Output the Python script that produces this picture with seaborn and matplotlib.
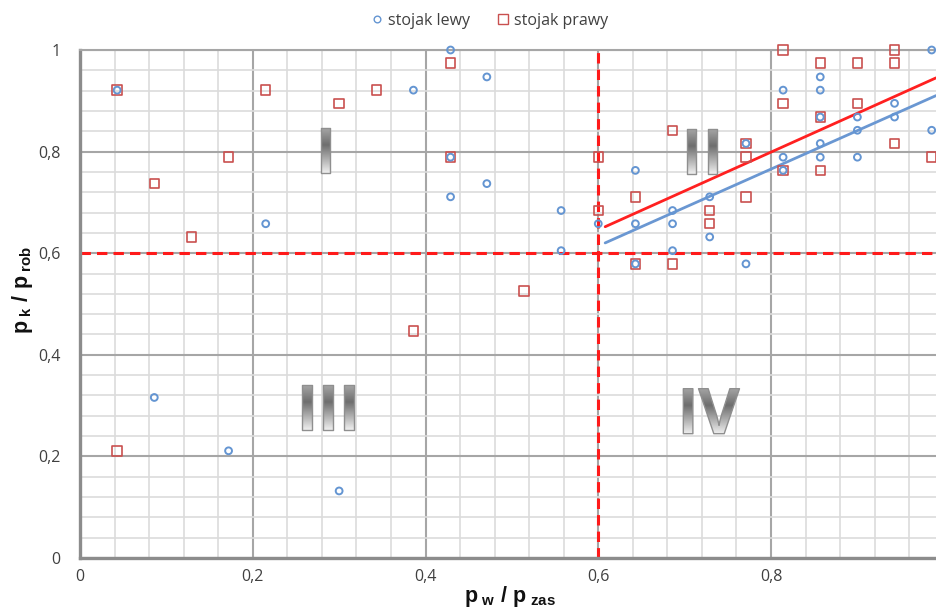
import numpy as np
import pandas as pd
import matplotlib
matplotlib.use('Agg')
import matplotlib.pyplot as plt
import seaborn as sns
from matplotlib.textpath import TextPath
from matplotlib.font_manager import FontProperties
from matplotlib.patches import PathPatch
from matplotlib.transforms import Affine2D, ScaledTranslation
from matplotlib.ticker import MultipleLocator, FixedLocator, FuncFormatter
from matplotlib.lines import Line2D
from matplotlib.colors import LinearSegmentedColormap

# ---------------- data ----------------
lewy_x = [0.043, 0.215, 0.086, 0.172, 0.300, 0.386, 0.429, 0.471, 0.429, 0.471,
          0.429, 0.557, 0.557, 0.600, 0.643, 0.643, 0.643, 0.686, 0.686, 0.686,
          0.729, 0.729, 0.771, 0.771, 0.814, 0.814, 0.814, 0.857, 0.857, 0.857,
          0.857, 0.857, 0.900, 0.900, 0.900, 0.943, 0.943, 0.986, 0.986]
lewy_y = [0.921, 0.658, 0.316, 0.211, 0.132, 0.921, 1.000, 0.947, 0.789, 0.737,
          0.711, 0.684, 0.605, 0.658, 0.763, 0.658, 0.579, 0.684, 0.658, 0.605,
          0.711, 0.632, 0.816, 0.579, 0.921, 0.789, 0.763, 0.947, 0.921, 0.868,
          0.816, 0.789, 0.868, 0.842, 0.789, 0.895, 0.868, 1.000, 0.842]

prawy_x = [0.043, 0.086, 0.129, 0.172, 0.215, 0.300, 0.343, 0.043, 0.386, 0.429,
           0.429, 0.514, 0.600, 0.600, 0.643, 0.643, 0.686, 0.686, 0.729, 0.729,
           0.771, 0.771, 0.771, 0.814, 0.814, 0.814, 0.857, 0.857, 0.857, 0.900,
           0.900, 0.943, 0.943, 0.943, 0.986]
prawy_y = [0.921, 0.737, 0.632, 0.789, 0.921, 0.895, 0.921, 0.211, 0.447, 0.974,
           0.789, 0.526, 0.789, 0.684, 0.711, 0.579, 0.842, 0.579, 0.684, 0.658,
           0.816, 0.789, 0.711, 1.000, 0.895, 0.763, 0.974, 0.868, 0.763, 0.974,
           0.895, 1.000, 0.974, 0.816, 0.789]

series_names = ['stojak lewy', 'stojak prawy']
trend_slope = [0.757, 0.765]
trend_intercept = [0.160, 0.187]
trend_x = [0.608, 0.991]

zone_labels = ['I', 'II', 'III', 'IV']
zone_x = [0.284, 0.720, 0.287, 0.731]
zone_y = [0.803, 0.800, 0.297, 0.289]
threshold = 0.6

x_ticks = [0, 0.2, 0.4, 0.6, 0.8]
y_ticks = [0, 0.2, 0.4, 0.6, 0.8, 1.0]

# ---------------- style ----------------
sns.set_theme(style='white')
plt.rcParams['font.family'] = ['Open Sans', 'DejaVu Sans']
plt.rcParams['mathtext.fontset'] = 'custom'
plt.rcParams['mathtext.rm'] = 'Liberation Sans:bold'
plt.rcParams['mathtext.it'] = 'Liberation Sans:bold'
plt.rcParams['mathtext.bf'] = 'Liberation Sans:bold'

BLUE = '#6495d2'
RED = '#c9504f'
TXT = '#404040'

W, H = 936, 610
fig = plt.figure(figsize=(W / 100, H / 100), dpi=100)
ax = fig.add_axes([80 / W, (H - 558) / H, 856 / W, 508 / H])
ax.set_xlim(0, 0.991)
ax.set_ylim(0, 1)

# grid
ax.xaxis.set_major_locator(FixedLocator(x_ticks))
ax.yaxis.set_major_locator(FixedLocator(y_ticks))
ax.xaxis.set_minor_locator(MultipleLocator(0.04))
ax.yaxis.set_minor_locator(MultipleLocator(0.04))
ax.grid(which='major', color='#a6a6a6', lw=1.5, zorder=0)
ax.grid(which='minor', color='#dcdcdc', lw=1.2, zorder=0)
ax.set_axisbelow(True)

fmt = FuncFormatter(lambda v, p: '0' if abs(v) < 1e-9 else ('1' if abs(v - 1) < 1e-9 else f'{v:.1f}'.replace('.', ',')))
ax.xaxis.set_major_formatter(fmt)
ax.yaxis.set_major_formatter(fmt)
ax.tick_params(which='both', length=0, labelsize=11.5, labelcolor=TXT)
ax.tick_params(axis='y', pad=14)
ax.tick_params(axis='x', pad=8)

for s in ['left', 'bottom']:
    ax.spines[s].set_color('#8c8c8c')
    ax.spines[s].set_linewidth(2.4)
ax.spines['top'].set_color('#a6a6a6')
ax.spines['top'].set_linewidth(1.5)
ax.spines['right'].set_visible(False)

# threshold dashed lines
ax.axvline(threshold, color='#ff1a1a', lw=2.2, ls=(0, (3.4, 2.0)), zorder=2)
ax.axhline(threshold, color='#ff1a1a', lw=2.2, ls=(0, (3.4, 2.0)), zorder=2)

# trend lines
tx = np.array(trend_x)
trend_df = pd.DataFrame({
    'x': np.concatenate([tx, tx]),
    'y': np.concatenate([trend_intercept[0] + trend_slope[0] * tx,
                         trend_intercept[1] + trend_slope[1] * tx]),
    's': [series_names[0]] * 2 + [series_names[1]] * 2,
})
sns.lineplot(data=trend_df, x='x', y='y', hue='s', palette=['#6a97d2', '#ff2020'],
             lw=2.0, legend=False, ax=ax, zorder=3, sort=False)

# scatter points
sns.scatterplot(x=prawy_x, y=prawy_y, marker='s', s=46, facecolor='none',
                edgecolor=RED, linewidth=1.2, ax=ax, zorder=5, clip_on=False, legend=False)
sns.scatterplot(x=lewy_x, y=lewy_y, marker='o', s=24, facecolor='none',
                edgecolor=BLUE, linewidth=1.4, ax=ax, zorder=6, clip_on=False, legend=False)

# gradient roman numerals
cmap = LinearSegmentedColormap.from_list('g', [(0, '#a9a9a9'), (0.38, '#6e6e6e'), (1.0, '#f4f4f4')])
fp = FontProperties(family='Open Sans', weight='bold')


def gradient_label(s, xc, yc, cap_px=45):
    tp = TextPath((0, 0), s, size=100, prop=fp)
    bb = tp.get_extents()
    k = cap_px / bb.height
    tr = Affine2D().translate(-(bb.x0 + bb.x1) / 2, -(bb.y0 + bb.y1) / 2).scale(k) \
        + ScaledTranslation(xc, yc, ax.transData)
    patch = PathPatch(tp, transform=tr, facecolor='none', edgecolor='#8f8f8f', lw=1.0,
                      joinstyle='round', zorder=4)
    ax.add_patch(patch)
    cx, cy = ax.transData.transform((xc, yc))
    inv = ax.transData.inverted()
    w = bb.width * k / 2 + 2
    h = cap_px / 2 + 1
    x0, y0 = inv.transform((cx - w, cy - h))
    x1, y1 = inv.transform((cx + w, cy + h))
    grad = np.linspace(0, 1, 256).reshape(-1, 1)
    im = ax.imshow(grad, extent=(x0, x1, y0, y1), origin='upper', aspect='auto',
                   cmap=cmap, zorder=3.5, interpolation='bilinear')
    im.set_clip_path(patch)


for s, xx, yy in zip(zone_labels, zone_x, zone_y):
    gradient_label(s, xx, yy)

ax.set_xlim(0, 0.991)
ax.set_ylim(0, 1)

# axis labels
ax.set_xlabel(r'$p_{\ w}\ /\ p_{\ zas}$', fontsize=15.5, color='#111111')
ax.xaxis.set_label_coords(0.502, -0.052)
ax.set_ylabel(r'$p_{\ k}\ /\ p_{\ rob}$', fontsize=15.5, color='#111111')
ax.yaxis.set_label_coords(-0.052, 0.528)

# legend
handles = [
    Line2D([], [], ls='none', marker='o', ms=4.8, mfc='none', mec=BLUE, mew=1.0),
    Line2D([], [], ls='none', marker='s', ms=6.5, mfc='none', mec=RED, mew=1.0),
]
fig.legend(handles, series_names, loc='center', bbox_to_anchor=(0.522, 0.966), ncol=2,
           frameon=False, fontsize=11.5, handletextpad=0.2, columnspacing=1.6,
           handlelength=1.0, labelcolor=TXT)

fig.savefig('out.png', dpi=100)
